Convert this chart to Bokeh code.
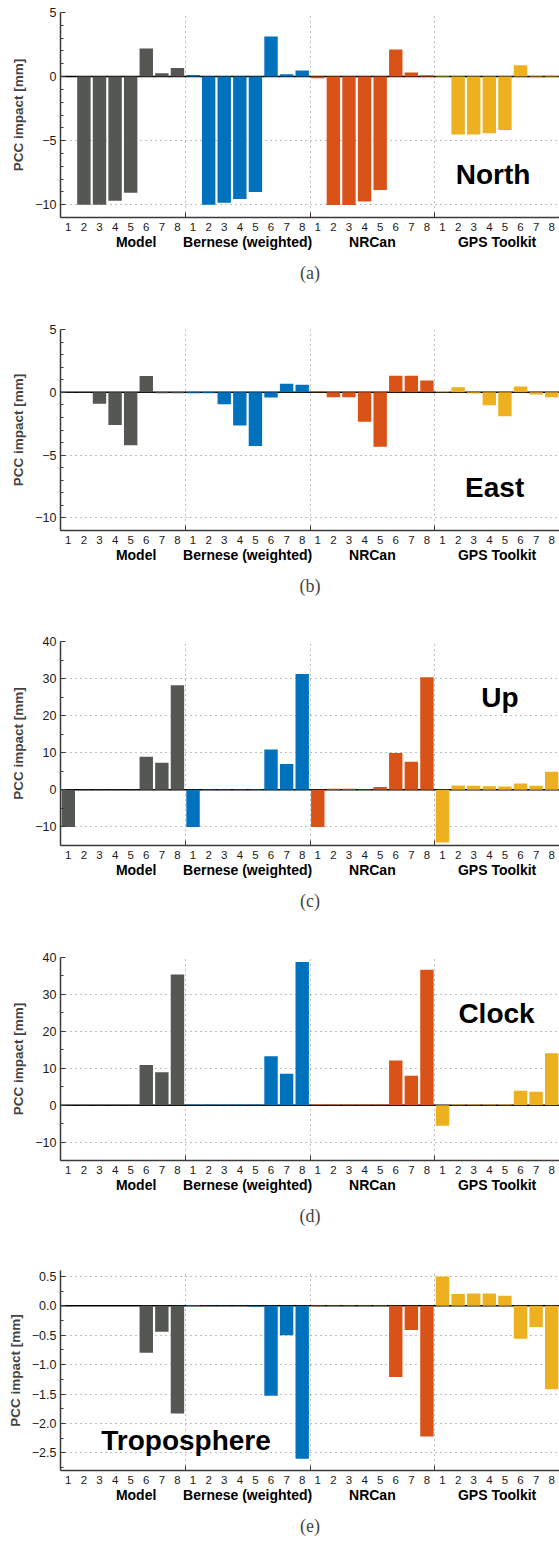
from bokeh.plotting import figure
from bokeh.models import (Range1d, FixedTicker, LinearAxis, Span, Label, Title,
                          ColumnDataSource)
from bokeh.layouts import column
from bokeh.embed import file_html
from bokeh.resources import INLINE

# ---------------- data ----------------
groups = ["Model", "Bernese (weighted)", "NRCan", "GPS Toolkit"]
group_colors = ["#555753", "#0072BD", "#D95319", "#EDB120"]
bar_labels = ["1", "2", "3", "4", "5", "6", "7", "8"]

north_model = [0.0, -10.0, -10.0, -9.7, -9.07, 2.2, 0.26, 0.67]
north_bernese = [0.13, -10.0, -9.85, -9.56, -9.0, 3.13, 0.18, 0.47]
north_nrcan = [-0.13, -10.03, -10.03, -9.75, -8.86, 2.12, 0.31, 0.1]
north_gpstk = [0.05, -4.53, -4.53, -4.43, -4.17, 0.88, -0.1, 0.08]

east_model = [0.03, -0.02, -0.92, -2.61, -4.22, 1.29, -0.08, -0.08]
east_bernese = [-0.08, -0.08, -0.95, -2.64, -4.27, -0.42, 0.69, 0.61]
east_nrcan = [0.1, -0.4, -0.4, -2.35, -4.33, 1.32, 1.32, 0.95]
east_gpstk = [0.1, 0.4, -0.1, -1.03, -1.9, 0.47, -0.18, -0.4]

up_model = [-10.0, 0.1, 0.1, 0.1, 0.1, 8.9, 7.28, 28.2]
up_bernese = [-10.0, 0.15, 0.15, 0.15, 0.15, 10.87, 7.0, 31.27]
up_nrcan = [-10.0, 0.27, 0.27, 0.18, 0.8, 9.97, 7.55, 30.37]
up_gpstk = [-14.2, 1.17, 1.08, 0.99, 0.9, 1.7, 1.08, 4.85]

clock_model = [0.1, 0.1, 0.1, 0.1, 0.1, 10.9, 8.92, 35.4]
clock_bernese = [0.15, 0.15, 0.15, 0.15, 0.15, 13.24, 8.47, 38.8]
clock_nrcan = [0.15, 0.15, 0.15, 0.15, 0.15, 12.07, 7.93, 36.67]
clock_gpstk = [-5.59, 0.2, 0.2, 0.2, 0.2, 3.87, 3.6, 14.05]

tropo_model = [0.0, 0.0, 0.0, 0.0, 0.0, -0.8, -0.44, -1.83]
tropo_bernese = [0.015, 0.005, 0.005, 0.005, -0.015, -1.53, -0.5, -2.6]
tropo_nrcan = [0.01, 0.01, 0.01, 0.01, 0.01, -1.21, -0.41, -2.22]
tropo_gpstk = [0.5, 0.2, 0.21, 0.21, 0.17, -0.56, -0.36, -1.42]

north_ticks = [-10, -5, 0, 5]
east_ticks = [-10, -5, 0, 5]
up_ticks = [-10, 0, 10, 20, 30, 40]
clock_ticks = [-10, 0, 10, 20, 30, 40]
tropo_ticks = [-2.5, -2.0, -1.5, -1.0, -0.5, 0.0, 0.5]

SANS = "Liberation Sans"
SERIF = "Liberation Serif"
AXC = "#3a3a3a"


def fmt(v, dec):
    s = f"{abs(v):.{dec}f}"
    return ("\u2212" + s) if v < 0 else s


def panel(series, yr, majors, minors, dec, name, name_x, name_y, caption,
          height, b_top, b_bottom):
    p = figure(width=559, height=height, x_range=Range1d(0.5, 32.5),
               y_range=Range1d(*yr), output_backend="svg", toolbar_location=None,
               min_border_left=60, min_border_right=0, min_border_top=b_top,
               min_border_bottom=b_bottom, title=None)
    p.outline_line_color = None
    p.background_fill_color = "white"

    xs, tops, cols = [], [], []
    for gi, vals in enumerate(series):
        for bi, v in enumerate(vals):
            xs.append(gi * 8 + bi + 1)
            tops.append(v)
            cols.append(group_colors[gi])
    src = ColumnDataSource(dict(x=xs, top=tops, color=cols))
    p.add_layout(Span(location=0, dimension="width", line_color="black",
                      line_width=1.5, level="underlay"))
    p.vbar(x="x", top="top", bottom=0, width=0.86, color="color",
           line_color=None, source=src)

    # y axis
    ya = p.yaxis[0]
    ya.ticker = FixedTicker(ticks=majors, minor_ticks=minors)
    ya.major_label_overrides = {t: fmt(t, dec) for t in majors}
    ya.axis_label = "PCC impact [mm]"
    ya.axis_label_text_font = SANS
    ya.axis_label_text_font_style = "bold"
    ya.axis_label_text_font_size = "13.5px"
    ya.axis_label_standoff = 6
    ya.major_label_text_font = SANS
    ya.major_label_text_font_size = "12.5px"
    ya.major_label_text_color = "#1a1a1a"
    ya.major_label_standoff = 4
    ya.major_tick_in = 5
    ya.major_tick_out = 0
    ya.minor_tick_in = 3
    ya.minor_tick_out = 0
    ya.axis_line_color = AXC
    ya.axis_line_width = 1.5
    ya.major_tick_line_color = AXC
    ya.minor_tick_line_color = AXC

    # x axis: bar numbers, separator ticks as minor ticks
    xa = p.xaxis[0]
    xa.ticker = FixedTicker(ticks=list(range(1, 33)), minor_ticks=[8.5, 16.5, 24.5])
    xa.major_label_overrides = {i + 1: bar_labels[i % 8] for i in range(32)}
    xa.major_label_text_font = SANS
    xa.major_label_text_font_size = "11.5px"
    xa.major_label_text_color = "#1a1a1a"
    xa.major_label_standoff = 5
    xa.major_tick_in = 0
    xa.major_tick_out = 0
    xa.minor_tick_in = 5
    xa.minor_tick_out = 0
    xa.axis_line_color = AXC
    xa.axis_line_width = 1.5
    xa.minor_tick_line_color = AXC

    # group names axis
    gx = [5.35, 12.5, 20.5, 28.5]
    ga = LinearAxis(ticker=FixedTicker(ticks=gx, minor_ticks=[]),
                    major_label_overrides={gx[i]: groups[i] for i in range(4)})
    ga.axis_line_color = None
    ga.major_tick_line_color = None
    ga.minor_tick_line_color = None
    ga.major_label_text_font = SANS
    ga.major_label_text_font_style = "bold"
    ga.major_label_text_font_size = "14px"
    ga.major_label_text_color = "black"
    ga.major_label_standoff = -6
    p.add_layout(ga, "below")

    p.add_layout(Title(text=caption, align="center", offset=-16,
                       text_font=SERIF, text_font_style="normal",
                       text_font_size="18px", standoff=16), "below")

    # grids
    p.ygrid.ticker = FixedTicker(ticks=majors)
    p.xgrid.ticker = FixedTicker(ticks=[8.5, 16.5, 24.5, 32.5])
    for g in (p.xgrid[0], p.ygrid[0]):
        g.grid_line_color = "#808080"
        g.grid_line_dash = "1 4"
        g.grid_line_width = 1

    p.add_layout(Label(x=name_x, y=name_y, text=name, text_align="center",
                       text_baseline="middle", text_font=SANS,
                       text_font_style="bold", text_font_size="28px",
                       text_color="black"))
    return p


def minors_between(lo, hi, step, majors):
    out = []
    v = lo
    while v <= hi + 1e-9:
        if all(abs(v - m) > 1e-9 for m in majors):
            out.append(round(v, 4))
        v += step
    return out


pa = panel([north_model, north_bernese, north_nrcan, north_gpstk], (-11, 5),
           north_ticks, minors_between(-11, 5, 1, north_ticks), 0,
           "North", 28.24, -7.61, "(a)", 310, 12, 93)
pb = panel([east_model, east_bernese, east_nrcan, east_gpstk], (-11, 5),
           east_ticks, minors_between(-11, 5, 1, east_ticks), 0,
           "East", 28.34, -7.58, "(b)", 310, 19, 90)
pc = panel([up_model, up_bernese, up_nrcan, up_gpstk], (-15, 40),
           up_ticks, minors_between(-15, 40, 5, up_ticks), 0,
           "Up", 28.68, 24.9, "(c)", 300, 21, 75)
pd = panel([clock_model, clock_bernese, clock_nrcan, clock_gpstk], (-15, 40),
           clock_ticks, minors_between(-15, 40, 5, clock_ticks), 0,
           "Clock", 28.46, 24.75, "(d)", 320, 37, 80)
pe = panel([tropo_model, tropo_bernese, tropo_nrcan, tropo_gpstk], (-2.8, 0.6),
           tropo_ticks, minors_between(-2.75, 0.6, 0.25, tropo_ticks), 1,
           "Troposphere", 8.55, -2.294, "(e)", 303, 30, 70)

layout = column(pa, pb, pc, pd, pe, spacing=0)
open("out.html", "w").write(file_html(layout, INLINE))
